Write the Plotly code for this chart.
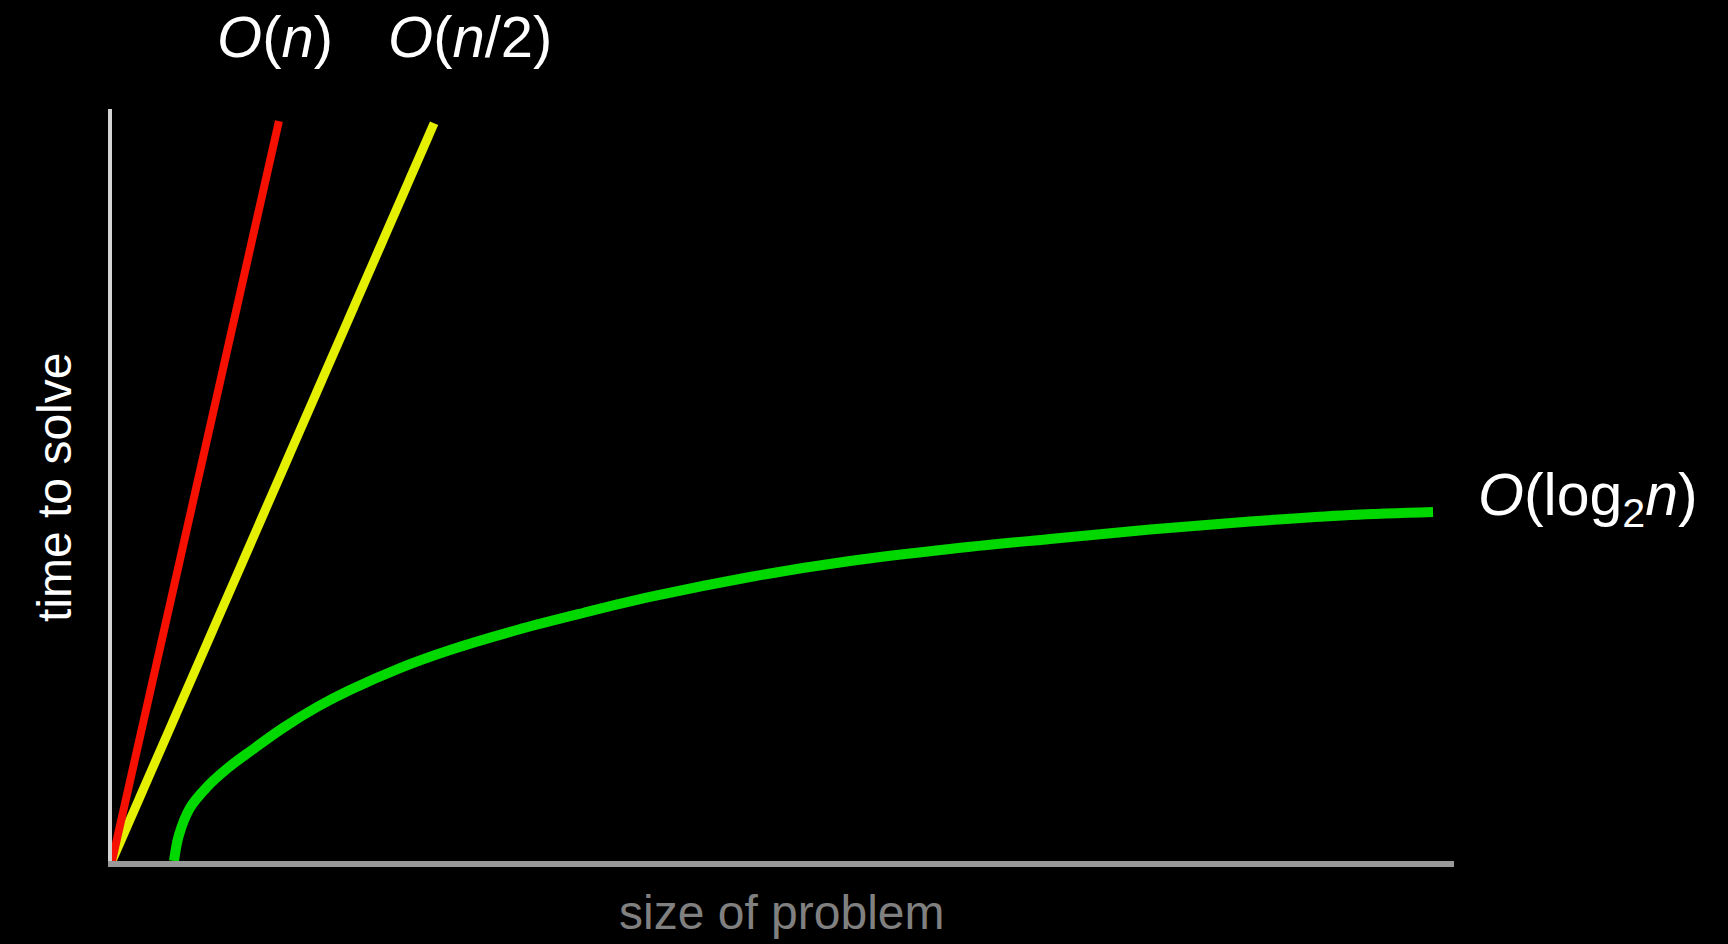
import plotly.graph_objects as go

# ---- data (axis units 0..100) ----
linear_x = [0.0, 12.44]
linear_y = [0.0, 98.4]

half_x = [0.0, 24.0]
half_y = [0.0, 98.1]

log_x = [4.62, 4.99, 5.81, 7.08, 8.64, 10.43, 12.74, 15.28, 17.73, 21.46, 25.19,
         30.18, 35.10, 40.09, 47.54, 54.99, 62.44, 69.90, 77.35, 84.80, 92.25, 98.44]
log_y = [0.0, 3.46, 7.05, 9.84, 12.37, 14.76, 17.69, 20.48, 22.74, 25.66, 28.06,
         30.72, 32.98, 35.11, 37.77, 39.89, 41.49, 42.82, 44.08, 45.15, 46.01, 46.41]

label_linear = "<i>O</i>(<i>n</i>)"
label_half = "<i>O</i>(<i>n</i>/2)"
label_log = "<i>O</i>(log<sub>2</sub><i>n</i>)"
x_title = "size of problem"
y_title = "time to solve"

# ---- layout geometry ----
W, H = 1728, 944
L, R, T, B = 112, 1728 - 1454, 109, 944 - 861
PW, PH = W - L - R, H - T - B


def px(x):
    return (x - L) / PW


def py(y):
    return (H - B - y) / PH


FONT = "Liberation Sans, Arial, Helvetica, sans-serif"

fig = go.Figure()
fig.add_trace(go.Scatter(x=log_x, y=log_y, mode="lines",
                         line=dict(color="#00d800", width=10, shape="spline", smoothing=1.0),
                         hoverinfo="skip"))
fig.add_trace(go.Scatter(x=half_x, y=half_y, mode="lines",
                         line=dict(color="#e4f000", width=9), hoverinfo="skip"))
fig.add_trace(go.Scatter(x=linear_x, y=linear_y, mode="lines",
                         line=dict(color="#f51000", width=8), hoverinfo="skip"))

annotations = [
    dict(text=label_linear, x=px(275), y=py(36), font=dict(size=58, color="white")),
    dict(text=label_half, x=px(470), y=py(36), font=dict(size=58, color="white")),
    dict(text=label_log, x=px(1476), y=py(499), xanchor="left",
         font=dict(size=59, color="white")),
    dict(text=y_title, x=px(55), y=py(488), textangle=-90,
         font=dict(size=48, color="white")),
    dict(text=x_title, x=px(781), y=py(912), font=dict(size=48, color="#808080")),
]
for a in annotations:
    a.setdefault("xanchor", "center")
    a.update(xref="paper", yref="paper", yanchor="middle", showarrow=False)
    a["font"]["family"] = FONT

fig.update_layout(
    width=W, height=H,
    margin=dict(l=L, r=R, t=T, b=B, pad=0),
    paper_bgcolor="black", plot_bgcolor="black",
    showlegend=False,
    annotations=annotations,
    xaxis=dict(range=[0, 100], showgrid=False, zeroline=False, showticklabels=False,
               ticks="", showline=True, linecolor="#999999", linewidth=6, fixedrange=True),
    yaxis=dict(range=[0, 100], showgrid=False, zeroline=False, showticklabels=False,
               ticks="", showline=True, linecolor="#d4d4d4", linewidth=4, fixedrange=True),
)

fig.write_html(
    "out.html",
    config={"displayModeBar": False},
    post_script="document.body.style.margin='0';document.body.style.background='black';",
)
